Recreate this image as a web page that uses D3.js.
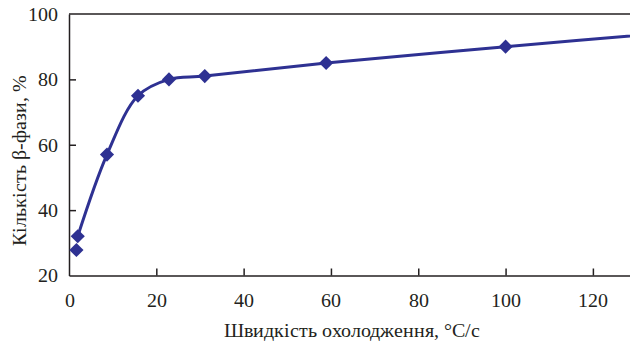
<!DOCTYPE html>
<html>
<head>
<meta charset="utf-8">
<script src="https://cdn.jsdelivr.net/npm/d3@7"></script>
<style>
  @font-face { font-family: "ChartSerif"; src: local("Liberation Serif"), local("LiberationSerif"), local("Times New Roman"); }
  body { margin: 0; }
  svg, svg text, svg .tick text { font-family: "ChartSerif", "Liberation Serif", serif !important; }
</style>
</head>
<body>
<script>
// cooling rate, °C/s  vs  beta-phase amount, %
var rates   = [1.7, 2.0, 8.7, 15.8, 22.9, 31.1, 58.9, 100, 140];
var amounts = [27.8, 32, 57, 75, 80, 81, 85, 90, 94.6];
var shown   = [true, true, true, true, true, true, true, true, false]; // last one lies beyond the frame
var xTicks  = [0, 20, 40, 60, 80, 100, 120];
var yTicks  = [20, 40, 60, 80, 100];

var width = 630, height = 344;
var margin = {left: 69, top: 14, right: 0, bottom: 69};
var serif = "ChartSerif, 'Liberation Serif', serif";
var axisColor = "#231f20";

var svg = d3.select("body").append("svg")
    .attr("width", width)
    .attr("height", height);

var x = d3.scaleLinear().domain([0, 128.5]).range([margin.left, width]);
var y = d3.scaleLinear().domain([20, 100]).range([height - margin.bottom + 0.5, margin.top]);

svg.append("clipPath").attr("id", "plot")
  .append("rect")
    .attr("x", margin.left).attr("y", 0)
    .attr("width", width - margin.left).attr("height", height);

// frame: top line (left and bottom come from the axes)
svg.append("line").attr("x1", x(0)).attr("y1", y(100)).attr("x2", width).attr("y2", y(100))
    .attr("stroke", axisColor).attr("stroke-width", 1.5);

// x axis (ticks point inward)
var gx = svg.append("g")
    .attr("transform", "translate(0," + y(20) + ")")
    .call(d3.axisBottom(x).tickValues(xTicks).tickSizeInner(-7).tickSizeOuter(0).tickPadding(17))
    .attr("font-family", null).attr("font-size", null);
gx.select(".domain").attr("stroke", axisColor).attr("stroke-width", 1.5);
gx.selectAll(".tick line").attr("stroke", axisColor).attr("stroke-width", 1.5);
gx.selectAll(".tick").filter(function(d) { return d == 0; }).select("line").remove();

// y axis
var gy = svg.append("g")
    .attr("transform", "translate(" + x(0) + ",0)")
    .call(d3.axisLeft(y).tickValues(yTicks).tickSizeInner(-7).tickSizeOuter(0).tickPadding(11))
    .attr("font-family", null).attr("font-size", null);
gy.select(".domain").attr("stroke", axisColor).attr("stroke-width", 1.5);
gy.selectAll(".tick line").attr("stroke", axisColor).attr("stroke-width", 1.5);
gy.selectAll(".tick").filter(function(d) { return d == 20 || d == 100; }).select("line").remove();

// titles
svg.append("text")
    .attr("x", 352).attr("y", 337)
    .attr("text-anchor", "middle")
    .text("Швидкість охолодження, °С/с");

svg.append("text")
    .attr("transform", "translate(26," + 160 + ") rotate(-90)")
    .attr("text-anchor", "middle")
    .text("Кількість β-фази, %");

svg.selectAll("text")
    .attr("font-family", serif)
    .attr("font-size", 20)
    .attr("fill", axisColor);

// series
var pts = rates.map(function(r, i) { return {r: r, a: amounts[i], show: shown[i]}; });
var blue = "#2e3192";

var line = d3.line()
    .x(function(d) { return x(d.r); })
    .y(function(d) { return y(d.a); })
    .curve(d3.curveCatmullRom.alpha(0.5));

var plot = svg.append("g").attr("clip-path", "url(#plot)");
plot.append("path")
    .datum(pts.slice(1))
    .attr("d", line)
    .attr("fill", "none")
    .attr("stroke", blue)
    .attr("stroke-width", 3);

plot.selectAll(".marker")
    .data(pts.filter(function(d) { return d.show; }))
    .enter().append("path")
    .attr("class", "marker")
    .attr("d", d3.symbol(d3.symbolSquare, 100))
    .attr("transform", function(d) { return "translate(" + x(d.r) + "," + y(d.a) + ") rotate(45)"; })
    .attr("fill", blue);
</script>
</body>
</html>
